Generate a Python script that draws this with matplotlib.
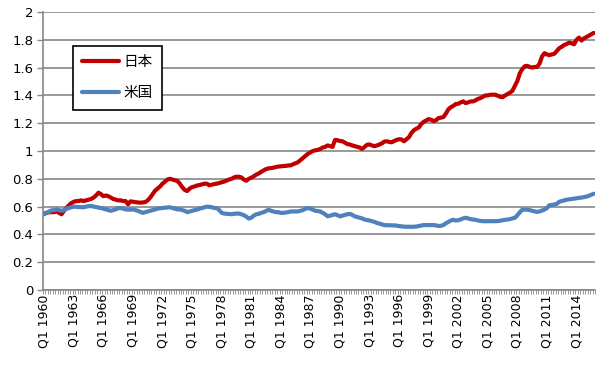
import numpy as np
import matplotlib.pyplot as plt

plt.rcParams['font.family'] = ['Noto Sans CJK JP', 'DejaVu Sans']

# Data: quarterly, Q1 1960 .. Q4 2015
start_year = 1960
end_year = 2015

japan = [
    0.55, 0.555, 0.56, 0.56,      # 1960
    0.56, 0.565, 0.555, 0.545,    # 1961
    0.57, 0.59, 0.61, 0.625,      # 1962
    0.635, 0.64, 0.64, 0.645,     # 1963
    0.64, 0.645, 0.65, 0.655,     # 1964
    0.665, 0.68, 0.70, 0.69,      # 1965
    0.675, 0.68, 0.675, 0.665,    # 1966
    0.655, 0.65, 0.645, 0.645,    # 1967
    0.64, 0.64, 0.617, 0.638,     # 1968
    0.635, 0.632, 0.63, 0.628,    # 1969
    0.63, 0.633, 0.645, 0.665,    # 1970
    0.69, 0.715, 0.73, 0.745,     # 1971
    0.765, 0.78, 0.795, 0.80,     # 1972
    0.795, 0.79, 0.785, 0.765,    # 1973
    0.74, 0.72, 0.712, 0.73,      # 1974
    0.74, 0.745, 0.752, 0.755,    # 1975
    0.76, 0.765, 0.765, 0.753,    # 1976
    0.758, 0.762, 0.765, 0.77,    # 1977
    0.775, 0.78, 0.787, 0.795,    # 1978
    0.80, 0.81, 0.815, 0.815,     # 1979
    0.81, 0.795, 0.786, 0.80,     # 1980
    0.808, 0.818, 0.83, 0.838,    # 1981
    0.85, 0.86, 0.87, 0.875,      # 1982
    0.877, 0.88, 0.885, 0.888,    # 1983
    0.89, 0.892, 0.893, 0.896,    # 1984
    0.897, 0.905, 0.912, 0.92,    # 1985
    0.935, 0.95, 0.965, 0.98,     # 1986
    0.99, 1.0, 1.005, 1.008,      # 1987
    1.015, 1.025, 1.03, 1.04,     # 1988
    1.035, 1.03, 1.08, 1.078,     # 1989
    1.072, 1.07, 1.06, 1.05,      # 1990
    1.047, 1.04, 1.035, 1.03,     # 1991
    1.025, 1.015, 1.03, 1.045,    # 1992
    1.047, 1.04, 1.035, 1.04,     # 1993
    1.047, 1.055, 1.068, 1.07,    # 1994
    1.065, 1.063, 1.072, 1.08,    # 1995
    1.085, 1.083, 1.07, 1.085,    # 1996
    1.10, 1.13, 1.15, 1.16,       # 1997
    1.17, 1.195, 1.21, 1.22,      # 1998
    1.23, 1.225, 1.215, 1.222,    # 1999
    1.237, 1.24, 1.245, 1.27,     # 2000
    1.30, 1.315, 1.325, 1.338,    # 2001
    1.34, 1.35, 1.357, 1.345,     # 2002
    1.35, 1.357, 1.357, 1.365,    # 2003
    1.375, 1.381, 1.39, 1.40,     # 2004
    1.40, 1.405, 1.405, 1.405,    # 2005
    1.398, 1.39, 1.387, 1.40,     # 2006
    1.41, 1.42, 1.434, 1.47,      # 2007
    1.505, 1.56, 1.59, 1.61,      # 2008
    1.613, 1.605, 1.60, 1.605,    # 2009
    1.605, 1.63, 1.68, 1.704,     # 2010
    1.695, 1.69, 1.695, 1.70,     # 2011
    1.72, 1.74, 1.75, 1.763,      # 2012
    1.77, 1.78, 1.775, 1.768,     # 2013
    1.80, 1.816, 1.795, 1.81,     # 2014
    1.82, 1.83, 1.84, 1.85,       # 2015
]

usa = [
    0.545, 0.555, 0.565, 0.573,   # 1960
    0.575, 0.58, 0.575, 0.57,     # 1961
    0.575, 0.585, 0.59, 0.595,    # 1962
    0.60, 0.598, 0.597, 0.596,    # 1963
    0.595, 0.60, 0.603, 0.605,    # 1964
    0.60, 0.597, 0.593, 0.59,     # 1965
    0.585, 0.58, 0.575, 0.57,     # 1966
    0.575, 0.58, 0.588, 0.59,     # 1967
    0.585, 0.58, 0.578, 0.578,    # 1968
    0.58, 0.575, 0.57, 0.562,     # 1969
    0.555, 0.56, 0.565, 0.57,     # 1970
    0.575, 0.58, 0.585, 0.588,    # 1971
    0.59, 0.592, 0.594, 0.595,    # 1972
    0.59, 0.585, 0.58, 0.58,      # 1973
    0.575, 0.57, 0.56, 0.565,     # 1974
    0.57, 0.575, 0.578, 0.585,    # 1975
    0.59, 0.595, 0.60, 0.598,     # 1976
    0.595, 0.59, 0.59, 0.575,     # 1977
    0.555, 0.55, 0.548, 0.547,    # 1978
    0.545, 0.548, 0.55, 0.55,     # 1979
    0.545, 0.538, 0.528, 0.514,   # 1980
    0.52, 0.535, 0.545, 0.548,    # 1981
    0.555, 0.56, 0.568, 0.578,    # 1982
    0.57, 0.565, 0.56, 0.56,      # 1983
    0.555, 0.555, 0.558, 0.56,    # 1984
    0.565, 0.565, 0.565, 0.566,   # 1985
    0.57, 0.575, 0.585, 0.59,     # 1986
    0.585, 0.578, 0.57, 0.568,    # 1987
    0.565, 0.555, 0.545, 0.53,    # 1988
    0.535, 0.54, 0.545, 0.538,    # 1989
    0.53, 0.535, 0.54, 0.545,     # 1990
    0.548, 0.54, 0.53, 0.525,     # 1991
    0.52, 0.515, 0.507, 0.503,    # 1992
    0.50, 0.495, 0.49, 0.482,     # 1993
    0.478, 0.472, 0.467, 0.466,   # 1994
    0.466, 0.465, 0.465, 0.463,   # 1995
    0.46, 0.458, 0.456, 0.455,    # 1996
    0.455, 0.455, 0.455, 0.457,   # 1997
    0.46, 0.464, 0.467, 0.467,    # 1998
    0.467, 0.467, 0.467, 0.465,   # 1999
    0.46, 0.462, 0.468, 0.48,     # 2000
    0.49, 0.50, 0.505, 0.50,      # 2001
    0.502, 0.508, 0.515, 0.52,    # 2002
    0.515, 0.51, 0.507, 0.505,    # 2003
    0.50, 0.497, 0.495, 0.495,    # 2004
    0.495, 0.495, 0.495, 0.495,   # 2005
    0.496, 0.498, 0.502, 0.505,   # 2006
    0.507, 0.51, 0.515, 0.52,     # 2007
    0.538, 0.56, 0.578, 0.578,    # 2008
    0.578, 0.575, 0.57, 0.565,    # 2009
    0.562, 0.565, 0.572, 0.578,   # 2010
    0.59, 0.61, 0.612, 0.615,     # 2011
    0.62, 0.635, 0.64, 0.645,     # 2012
    0.65, 0.652, 0.655, 0.657,    # 2013
    0.66, 0.663, 0.665, 0.668,    # 2014
    0.672, 0.678, 0.685, 0.693,   # 2015
]

labels = ['日本', '米国']
tick_years = list(range(1960, 2015, 3))
tick_labels = ['Q1 %d' % y for y in tick_years]

# Figure
fig = plt.figure(figsize=(6.0, 3.65), dpi=100)
ax = fig.add_axes([0.0717, 0.2055, 0.92, 0.7615])

x = np.arange(len(japan))
ax.plot(x, japan, color='#C00000', lw=3.0, label=labels[0], solid_capstyle='round')
ax.plot(x, usa, color='#4F81BD', lw=3.0, label=labels[1], solid_capstyle='round')

ax.set_xlim(-0.5, len(japan) - 0.5)
ax.set_ylim(0, 2)
ax.set_yticks(np.arange(0, 2.01, 0.2))
ax.set_yticklabels(['0', '0.2', '0.4', '0.6', '0.8', '1', '1.2', '1.4', '1.6', '1.8', '2'],
                   fontfamily='DejaVu Sans', fontsize=9.5)
ax.yaxis.grid(True, color='#878787', lw=1.2)
ax.set_axisbelow(True)

# x ticks: labels every 3 years, small marks between every quarter
ax.set_xticks([(y - start_year) * 4 for y in tick_years])
ax.set_xticklabels(tick_labels, rotation=90, fontfamily='DejaVu Sans', fontsize=9)
ax.tick_params(axis='x', which='major', length=0, pad=3)
ax.set_xticks(np.arange(-0.5, len(japan), 1), minor=True)
ax.tick_params(axis='x', which='minor', length=3, color='#878787', width=0.6)
ax.tick_params(axis='y', length=4, color='#878787', width=1.0, pad=3)

for s in ['top', 'right']:
    ax.spines[s].set_visible(False)
for s in ['left', 'bottom']:
    ax.spines[s].set_color('#878787')
    ax.spines[s].set_linewidth(1.2)

leg = ax.legend(loc='upper left', bbox_to_anchor=(0.1217, 0.874), bbox_transform=fig.transFigure,
                borderaxespad=0, fancybox=False, framealpha=1, edgecolor='black',
                handlelength=2.5, fontsize=10.5, borderpad=0.65, labelspacing=1.15,
                handletextpad=0.3)
leg.get_frame().set_linewidth(1.2)

fig.savefig('out.png', dpi=100)
